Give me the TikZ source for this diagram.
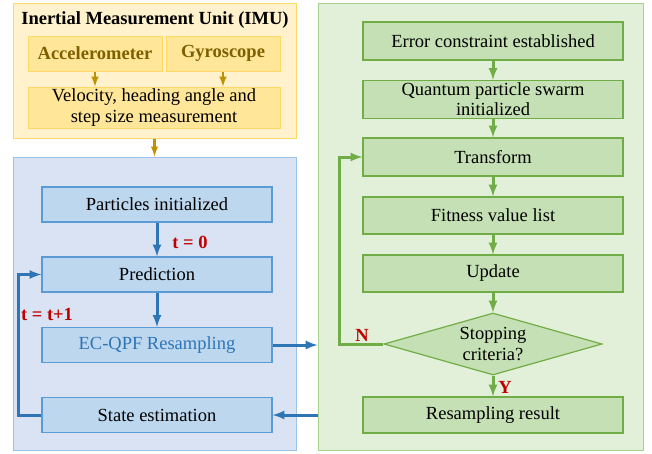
\documentclass[tikz,border=0pt]{standalone}
\usepackage{fontspec}
\setmainfont{Liberation Serif}
\usetikzlibrary{shapes.geometric}

\definecolor{imufill}{HTML}{FFF2CC}
\definecolor{imuline}{HTML}{FFD966}
\definecolor{imuin}{HTML}{FFE699}
\definecolor{imutext}{HTML}{7F6000}
\definecolor{imuarrow}{HTML}{BF9000}
\definecolor{pffill}{HTML}{DAE3F3}
\definecolor{pfline}{HTML}{9DC3E6}
\definecolor{pfin}{HTML}{BDD7EE}
\definecolor{pfinline}{HTML}{5B9BD5}
\definecolor{pfarrow}{HTML}{2E75B6}
\definecolor{qpfill}{HTML}{E2F0D9}
\definecolor{qpline}{HTML}{A9D18E}
\definecolor{qpin}{HTML}{C5E0B4}
\definecolor{qparrow}{HTML}{70AD47}
\definecolor{lbl}{HTML}{C00000}

\tikzset{
    panel/.style={draw,line width=1pt,inner sep=0pt},
    imubox/.style={draw=imuline,fill=imuin,line width=1pt,minimum height=35pt,inner sep=0pt,
        align=center,font=\fontsize{18.5}{21}\selectfont},
    pfbox/.style={draw=pfinline,fill=pfin,line width=1.2pt,minimum width=230pt,minimum height=35pt,
        inner sep=0pt,font=\fontsize{18.5}{21}\selectfont},
    qpbox/.style={draw=qparrow,fill=qpin,line width=1.2pt,minimum width=260pt,minimum height=38pt,
        inner sep=0pt,align=center,font=\fontsize{18.5}{21}\selectfont},
    flag/.style={text=lbl,font=\fontsize{18.5}{21}\selectfont\bfseries},
}

\begin{document}
\begin{tikzpicture}[x=1pt,y=-1pt]
        \useasboundingbox (0,0) rectangle (652,453);

        % outer panels
        \node[panel,draw=imuline,fill=imufill,minimum width=283pt,minimum height=135pt] (imu) at (154.5,70.5){};
        \node[panel,draw=pfline,fill=pffill,minimum width=283pt,minimum height=293pt] (pf) at (154.5,303.5){};
        \node[panel,draw=qpline,fill=qpfill,minimum width=325pt,minimum height=447pt] (qp) at (480.5,226.5){};

        % IMU
        \node[font=\fontsize{18.5}{21}\selectfont\bfseries] (imutitle) at (155,20){Inertial Measurement Unit (IMU)};
        \node[imubox,minimum width=134pt,text=imutext,font=\fontsize{18.5}{21}\selectfont\bfseries] (acc) at (95,53.5){Accelerometer};
        \node[imubox,minimum width=114pt,text=imutext,font=\fontsize{18.5}{21}\selectfont\bfseries] (gyro) at (223,53.5){Gyroscope};
        \node[imubox,minimum width=252pt,minimum height=41pt] (vel) at (154,107.5){Velocity, heading angle and\\step size measurement};

        % particle filter
        \node[pfbox] (init) at (157,204.5){Particles initialized};
        \node[pfbox] (pred) at (157,274.5){Prediction};
        \node[pfbox,text=pfarrow] (resamp) at (157,345){EC-QPF Resampling};
        \node[pfbox] (state) at (157,415){State estimation};

        % quantum particle swarm
        \node[qpbox] (err) at (493,41){Error constraint established};
        \node[qpbox,font=\fontsize{18.5}{22}\selectfont] (quant) at (493,99.5){Quantum particle swarm\\[-2pt]initialized};
        \node[qpbox] (trans) at (493,157){Transform};
        \node[qpbox,minimum height=37pt] (fit) at (493,215.5){Fitness value list};
        \node[qpbox,minimum height=37pt] (upd) at (493,273.5){Update};
        \node[diamond,aspect=3.5,draw=qparrow,fill=qpin,line width=1.2pt,inner sep=0pt,
            minimum width=218pt,minimum height=62pt,align=center,
            font=\fontsize{18.5}{21}\selectfont] (stop) at (493,344){Stopping\\criteria?};
        \node[qpbox,minimum height=36pt] (result) at (493,415){Resampling result};

        \coordinate (loopL) at (18,0);
        \coordinate (loopR) at (339,0);

        \draw[-latex,imuarrow,line width=2.4pt] (acc) -- (acc |- vel.north);
        \draw[-latex,imuarrow,line width=2.4pt] (gyro) -- (gyro |- vel.north);
        \draw[-latex,imuarrow,line width=2.4pt] (imu.south) -- (pf.north);

        \draw[-latex,pfarrow,line width=3pt] (init) -- (pred);
        \draw[-latex,pfarrow,line width=3pt] (pred) -- (resamp);
        \draw[-latex,pfarrow,line width=3pt] (state.west) -- (state.west -| loopL) |- (pred.west);
        \draw[-latex,pfarrow,line width=3pt] (resamp.east) -- (resamp.east -| qp.west);
        \draw[-latex,pfarrow,line width=3pt] (state.east -| qp.west) -- (state.east);

        \draw[-latex,qparrow,line width=3pt] (err) -- (quant);
        \draw[-latex,qparrow,line width=3pt] (quant) -- (trans);
        \draw[-latex,qparrow,line width=3pt] (trans) -- (fit);
        \draw[-latex,qparrow,line width=3pt] (fit) -- (upd);
        \draw[-latex,qparrow,line width=3pt] (upd) -- (stop);
        \draw[-latex,qparrow,line width=3pt] (stop) -- (result);
        \draw[-latex,qparrow,line width=3pt] (stop.west) -- (stop.west -| loopR) |- (trans.west);

        \node[flag] (t0) at (190,242){t = 0};
        \node[flag] (t1) at (47,314){t = t+1};
        \node[flag] (no) at (362,335){N};
        \node[flag] (yes) at (505,387){Y};
    \end{tikzpicture}
\end{document}
